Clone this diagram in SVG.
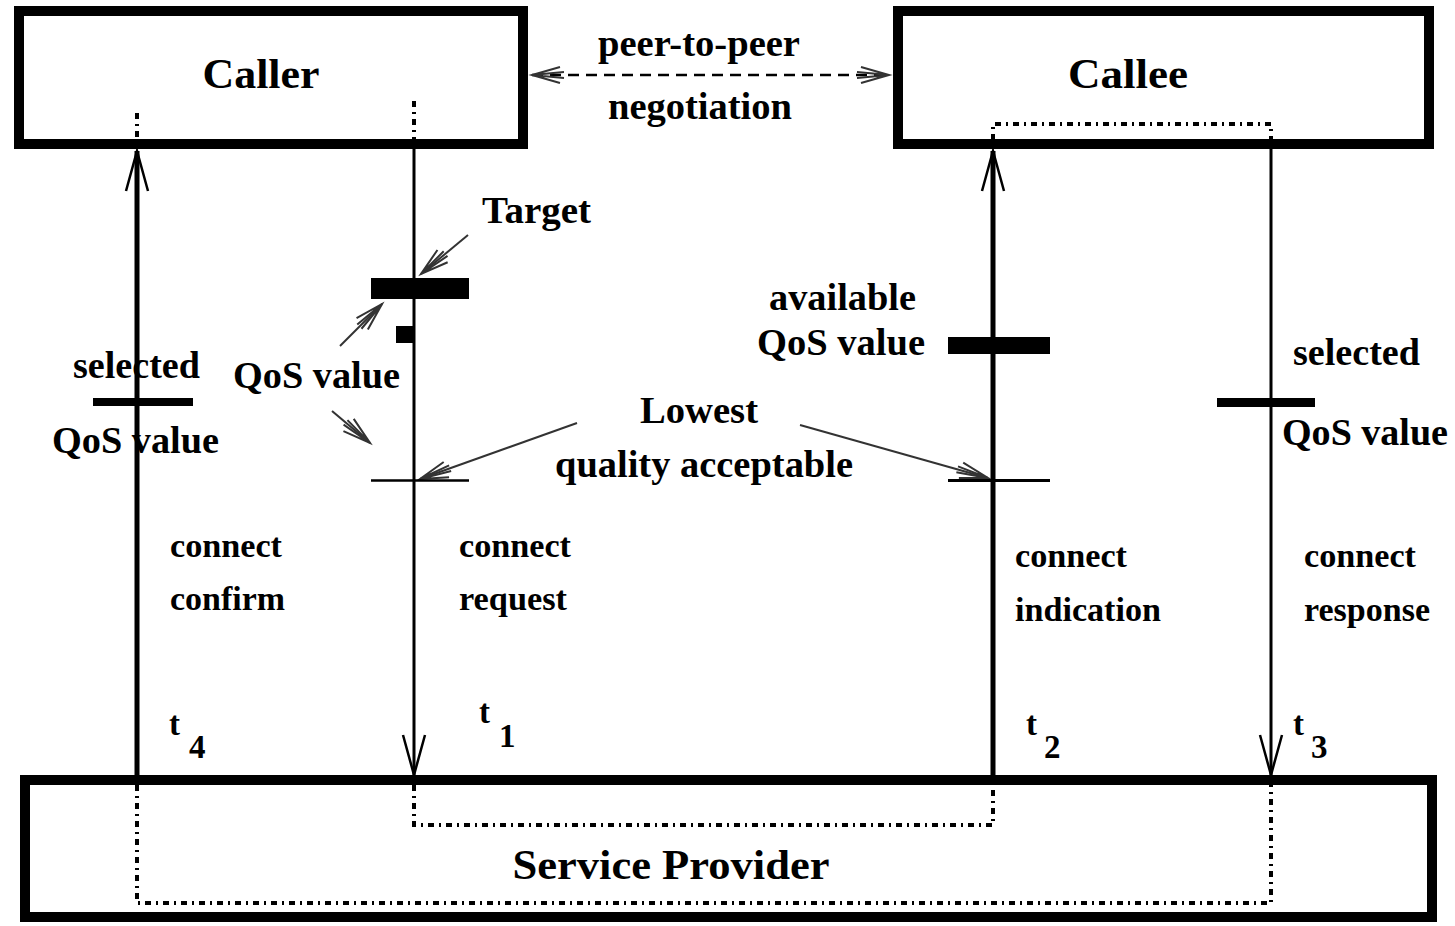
<svg xmlns="http://www.w3.org/2000/svg" width="1455" height="926" viewBox="0 0 1455 926">
<defs>
<style>
.box{fill:#fff;stroke:#000;stroke-width:10}
.t{font-family:"Liberation Serif","Times New Roman",serif;font-weight:bold;fill:#000}
.big{font-size:42px}
.mid{font-size:38px}
.sm{font-size:33px}
.thick{stroke:#000;stroke-width:5;fill:none}
.thin{stroke:#000;stroke-width:3;fill:none}
.dot{stroke:#000;stroke-width:4;fill:none;stroke-dasharray:6 5 2 5}
.ptr{stroke:#333;stroke-width:2;fill:none}
</style>
<marker id="ah" markerUnits="userSpaceOnUse" markerWidth="46" markerHeight="30" viewBox="-43 -15 46 30" refX="0" refY="0" orient="auto">
<path d="M-40,-11 L0,0 L-40,11" fill="none" stroke="#000" stroke-width="2.5"/>
</marker>
<marker id="sh" markerUnits="userSpaceOnUse" markerWidth="40" markerHeight="30" viewBox="-36 -15 40 30" refX="0" refY="0" orient="auto-start-reverse">
<path d="M-28,-8 L0,0 L-28,8 M-32,-3 L0,0 L-32,3" fill="none" stroke="#333" stroke-width="2"/>
</marker>
</defs>

<g id="caller">
<rect class="box" x="19" y="11" width="504" height="133"/>
<text class="t big" x="261" y="88" text-anchor="middle" textLength="117" lengthAdjust="spacingAndGlyphs">Caller</text>
</g>
<g id="callee">
<rect class="box" x="898" y="11" width="531" height="133"/>
<text class="t big" x="1128" y="88" text-anchor="middle" textLength="120" lengthAdjust="spacingAndGlyphs">Callee</text>
</g>
<g id="service-provider">
<rect class="box" x="25" y="780" width="1407" height="137"/>
<text class="t big" x="671" y="879" text-anchor="middle" textLength="317" lengthAdjust="spacingAndGlyphs">Service Provider</text>
</g>

<g id="connectors">
<line x1="532" y1="75" x2="889" y2="75" stroke="#000" stroke-width="2.5" stroke-dasharray="11 7" marker-start="url(#sh)" marker-end="url(#sh)"/>
<line class="thick" x1="137" y1="775" x2="137" y2="151" marker-end="url(#ah)"/>
<line class="thin" x1="414" y1="149" x2="414" y2="775" marker-end="url(#ah)"/>
<line class="thick" x1="993" y1="775" x2="993" y2="151" marker-end="url(#ah)"/>
<line class="thin" x1="1271" y1="149" x2="1271" y2="775" marker-end="url(#ah)"/>
<line class="dot" x1="137" y1="113" x2="137" y2="140"/>
<line class="dot" x1="414" y1="101" x2="414" y2="140"/>
<path class="dot" d="M993,140 L993,124 L1271,124 L1271,140"/>
<path class="dot" d="M414,785 L414,825 L993,825 L993,785"/>
<path class="dot" d="M137,785 L137,903 L1271,903 L1271,785"/>
<line class="ptr" x1="468" y1="235" x2="421" y2="274" marker-end="url(#sh)"/>
<line class="ptr" x1="340" y1="346" x2="382" y2="304" marker-end="url(#sh)"/>
<line class="ptr" x1="332" y1="411" x2="370" y2="443" marker-end="url(#sh)"/>
<line class="ptr" x1="577" y1="423" x2="420" y2="479" marker-end="url(#sh)"/>
<line class="ptr" x1="800" y1="425" x2="988" y2="478" marker-end="url(#sh)"/>
</g>

<g id="bars">
<rect x="93" y="398" width="100" height="8"/>
<rect x="371" y="278" width="98" height="21"/>
<rect x="396" y="326" width="19" height="17"/>
<line x1="371" y1="480.5" x2="469" y2="480.5" stroke="#000" stroke-width="2.5"/>
<rect x="948" y="337" width="102" height="17"/>
<line x1="948" y1="480.5" x2="1050" y2="480.5" stroke="#000" stroke-width="3"/>
<rect x="1217" y="398" width="98" height="9"/>
</g>

<g id="labels">
<text class="t mid" x="699" y="56" text-anchor="middle" textLength="202" lengthAdjust="spacingAndGlyphs">peer-to-peer</text>
<text class="t mid" x="700" y="119" text-anchor="middle" textLength="184" lengthAdjust="spacingAndGlyphs">negotiation</text>
<text class="t mid" x="482" y="223" textLength="109" lengthAdjust="spacingAndGlyphs">Target</text>
<text class="t mid" x="233" y="388" textLength="167" lengthAdjust="spacingAndGlyphs">QoS value</text>
<text class="t mid" x="73" y="378" textLength="127" lengthAdjust="spacingAndGlyphs">selected</text>
<text class="t mid" x="52" y="453" textLength="167" lengthAdjust="spacingAndGlyphs">QoS value</text>
<text class="t mid" x="640" y="423" textLength="118" lengthAdjust="spacingAndGlyphs">Lowest</text>
<text class="t mid" x="555" y="477" textLength="298" lengthAdjust="spacingAndGlyphs">quality acceptable</text>
<text class="t mid" x="769" y="310" textLength="147" lengthAdjust="spacingAndGlyphs">available</text>
<text class="t mid" x="757" y="355" textLength="168" lengthAdjust="spacingAndGlyphs">QoS value</text>
<text class="t mid" x="1293" y="365" textLength="127" lengthAdjust="spacingAndGlyphs">selected</text>
<text class="t mid" x="1282" y="445" textLength="166" lengthAdjust="spacingAndGlyphs">QoS value</text>
<text class="t sm" x="170" y="557" textLength="112" lengthAdjust="spacingAndGlyphs">connect</text>
<text class="t sm" x="170" y="610" textLength="115" lengthAdjust="spacingAndGlyphs">confirm</text>
<text class="t sm" x="459" y="557" textLength="112" lengthAdjust="spacingAndGlyphs">connect</text>
<text class="t sm" x="459" y="610" textLength="108" lengthAdjust="spacingAndGlyphs">request</text>
<text class="t sm" x="1015" y="567" textLength="112" lengthAdjust="spacingAndGlyphs">connect</text>
<text class="t sm" x="1015" y="621" textLength="146" lengthAdjust="spacingAndGlyphs">indication</text>
<text class="t sm" x="1304" y="567" textLength="112" lengthAdjust="spacingAndGlyphs">connect</text>
<text class="t sm" x="1304" y="621" textLength="126" lengthAdjust="spacingAndGlyphs">response</text>
<text class="t sm" x="169" y="735">t</text>
<text class="t sm" x="189" y="758">4</text>
<text class="t sm" x="479" y="723">t</text>
<text class="t sm" x="499" y="747">1</text>
<text class="t sm" x="1026" y="735">t</text>
<text class="t sm" x="1044" y="758">2</text>
<text class="t sm" x="1293" y="735">t</text>
<text class="t sm" x="1311" y="758">3</text>
</g>
</svg>
